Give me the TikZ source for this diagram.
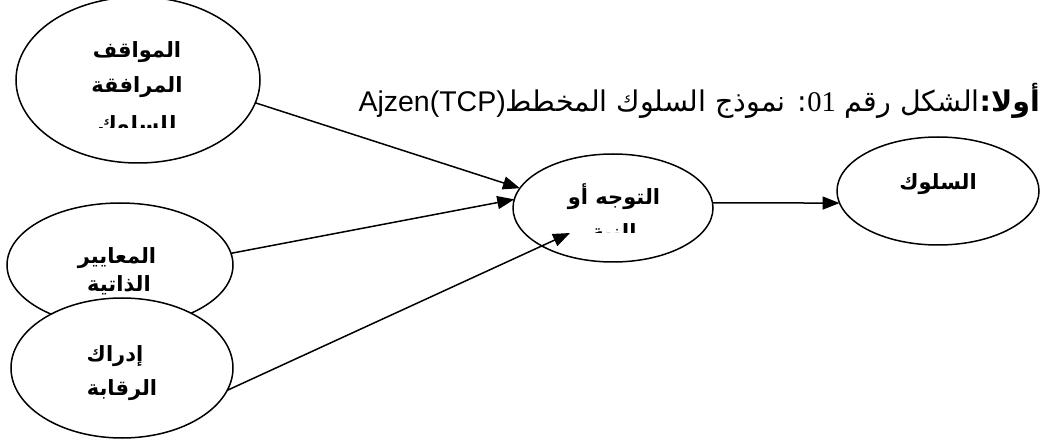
\documentclass[tikz,border=0pt]{standalone}
\usepackage{fontspec}
\usetikzlibrary{shapes.geometric,arrows.meta}
\TeXXeTstate=1
\newfontfamily\arabicfont[Script=Arabic]{DejaVu Sans}
\newfontfamily\latinfont{Liberation Sans}
\newfontfamily\seriffont{Liberation Serif}
\tikzset{
  oval/.style={ellipse,draw=black,line width=1.5pt,fill=white,inner sep=0pt,outer sep=0pt},
  lbl/.style={anchor=base,inner sep=0pt,font=\fontsize{21}{24}\selectfont\arabicfont\bfseries},
  conn/.style={line width=1.5pt,-{Triangle[length=17pt,width=13pt]}}
}
\begin{document}
\begin{tikzpicture}[x=1pt,y=-1pt]
\useasboundingbox (0,0) rectangle (1055,446);
% ellipse A
\node[oval,minimum width=244pt,minimum height=166pt] (A) at (138,80) {};
\node[lbl] (a1) at (137,58) {\beginR المواقف\endR};
\node[lbl] (a2) at (137,93) {\beginR المرافقة\endR};
\begin{scope}
\clip (0,0) rectangle (1055,128);
\node[lbl] (a3) at (137,132) {\beginR للسلوك\endR};
\end{scope}
% ellipse B
\node[oval,minimum width=200pt,minimum height=108pt] (B) at (613,208) {};
\node[lbl] (b1) at (614,205) {\beginR التوجه أو\endR};
\begin{scope}
\clip (0,0) rectangle (1055,233);
\node[lbl] (b2) at (614,240) {\beginR النية\endR};
\end{scope}
% ellipse C
\node[oval,minimum width=202pt,minimum height=108pt] (C) at (938,191) {};
\node[lbl] (c1) at (938,190) {\beginR السلوك\endR};
% ellipse D
\node[oval,minimum width=226pt,minimum height=124pt] (D) at (120,265) {};
\node[lbl] (d1) at (117,264) {\beginR المعايير\endR};
\node[lbl] (d2) at (119,292) {\beginR الذاتية\endR};
% ellipse E
\node[oval,minimum width=222pt,minimum height=140pt] (E) at (122,368) {};
\node[lbl] (e1) at (115,362) {\beginR إدراك\endR};
\node[lbl] (e2) at (122,395) {\beginR الرقابة\endR};
% title
\node[anchor=base east,inner sep=0pt,font=\fontsize{28.5}{32}\selectfont\arabicfont] (title) at (1040,112)
  {\beginR{\bfseries أولا:}الشكل رقم \beginL{\seriffont 01}\endL: نموذج السلوك المخطط\beginL{\latinfont Ajzen(TCP)}\endL\endR};
% connectors
\coordinate (eEnd) at (570,233);
\draw[conn] (A.-11) -- (B.168);
\draw[conn] (D.6) -- (B.175);
\draw[conn] (E.-12) -- (eEnd);
\draw[conn] (B.3) -- (C.187);
\end{tikzpicture}
\end{document}
